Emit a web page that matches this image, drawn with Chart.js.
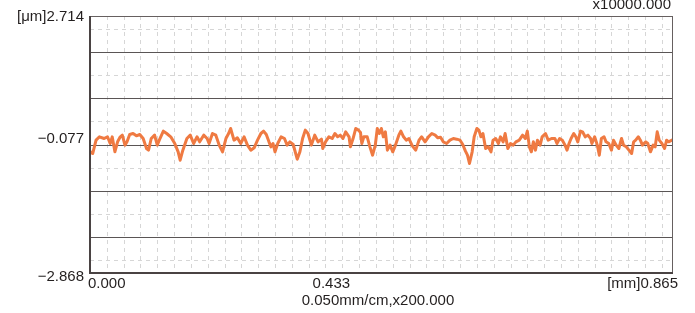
<!DOCTYPE html>
<html>
<head>
<meta charset="utf-8">
<script src="https://cdn.jsdelivr.net/npm/chart.js@4"></script>
<style>
  html, body { margin: 0; padding: 0; background: #fff; }
  #wrap { width: 695px; height: 313px; }
</style>
</head>
<body>
<div id="wrap"><canvas id="profileChart" width="695" height="313"></canvas></div>
<script>
// Axis range and labels
const xRange = [0, 0.865];
const yRange = [-2.868, 2.714];
const yCenter = -0.077;
const yLabels = ['[\u03bcm]2.714', '\u22120.077', '\u22122.868'];
const xLabels = ['0.000', '0.433', '[mm]0.865'];
const scaleNote = 'x10000.000';
const xTitle = '0.050mm/cm,x200.000';

// Profile (x in mm, y in um)
const profileX = [
  0.001,0.004,0.009,0.014,0.021,0.026,0.030,0.033,0.037,0.041,0.045,0.048,0.052,0.055,0.059,0.064,0.069,0.074,0.079,0.084,
  0.087,0.091,0.096,0.100,0.104,0.109,0.114,0.120,0.126,0.131,0.134,0.138,0.144,0.149,0.154,0.159,0.163,0.169,
  0.174,0.177,0.182,0.187,0.192,0.197,0.202,0.206,0.209,0.214,0.219,0.224,0.229,0.234,0.239,0.244,0.249,0.254,0.258,0.262,
  0.266,0.269,0.272,0.275,0.279,0.284,0.289,0.293,0.297,0.302,0.308,0.312,0.316,0.320,0.324,0.329,0.334,0.339,0.344,
  0.346,0.350,0.355,0.360,0.364,0.368,0.372,0.376,0.380,0.385,0.387,0.391,0.395,0.399,0.402,0.404,0.407,0.412,0.416,0.420,
  0.424,0.427,0.430,0.433,0.436,0.439,0.442,0.446,0.450,0.454,0.459,0.462,0.466,0.470,0.474,0.479,0.484,0.489,0.493,0.498,
  0.503,0.508,0.513,
  0.517,0.521,0.525,0.530,0.535,0.540,0.545,0.550,0.554,0.558,0.561,0.564,0.568,0.571,0.575,0.578,0.581,0.584,0.588,0.592,
  0.596,0.599,0.603,0.607,0.610,0.614,0.617,0.621,0.625,0.629,0.633,0.638,0.643,0.647,0.650,0.653,0.656,0.659,0.662,0.665,
  0.669,0.672,0.677,0.681,0.686,
  0.691,0.694,0.698,0.702,0.706,0.709,0.712,0.715,0.719,0.722,0.725,0.729,0.732,0.736,0.740,0.744,0.746,0.750,0.754,0.757,
  0.760,0.764,0.767,0.771,0.775,0.778,0.782,0.786,0.790,0.793,0.797,0.801,0.805,0.808,0.811,0.815,0.818,0.821,0.826,0.829,
  0.833,0.837,0.840,0.843,0.846,0.850,0.854,0.857,0.860,0.865
];
const profileY = [
  -0.236,-0.273,0.017,0.090,0.053,0.090,-0.055,0.090,-0.236,-0.019,0.090,0.126,-0.091,-0.019,0.140,0.162,0.111,0.140,0.053,-0.164,
  -0.200,0.053,0.126,-0.091,0.053,0.213,0.162,0.090,-0.055,-0.236,-0.418,-0.200,0.053,0.126,-0.055,0.090,-0.019,0.126,
  0.053,-0.055,0.162,0.126,-0.091,-0.236,0.053,0.162,0.271,0.017,0.068,-0.055,0.090,-0.091,-0.200,-0.149,0.017,0.162,0.213,0.140,
  -0.019,-0.128,-0.055,-0.236,-0.055,0.090,0.053,-0.091,-0.019,-0.077,-0.396,-0.236,0.053,0.235,0.162,-0.091,0.126,-0.019,0.039,
  -0.164,-0.019,0.090,0.053,0.162,0.090,0.126,0.053,0.198,0.090,-0.128,0.053,0.271,0.235,0.184,-0.055,0.090,0.090,-0.128,-0.309,
  -0.091,0.271,0.162,0.271,0.090,0.198,-0.200,-0.091,-0.236,-0.091,0.126,0.213,0.090,0.017,0.053,-0.106,-0.200,0.017,0.090,-0.019,
  0.090,0.162,0.126,
  0.068,0.082,-0.019,-0.055,0.017,0.053,0.039,0.017,-0.077,-0.222,-0.309,-0.490,-0.236,0.090,0.271,0.235,0.090,0.162,-0.164,-0.128,
  -0.236,0.017,0.053,-0.055,0.090,-0.019,0.162,-0.164,-0.055,-0.091,-0.019,0.017,0.126,0.053,0.213,-0.128,-0.236,-0.019,-0.200,0.017,
  -0.091,0.090,0.162,0.017,0.053,
  0.053,-0.055,0.053,0.017,-0.091,-0.200,-0.055,0.053,0.162,0.090,-0.019,0.213,0.198,0.090,0.126,0.053,-0.055,0.090,-0.091,-0.309,
  0.053,0.090,-0.019,-0.055,-0.200,0.017,-0.091,-0.164,0.053,-0.091,-0.128,-0.200,-0.273,-0.019,0.017,0.090,0.017,-0.091,-0.019,-0.055,
  -0.236,-0.091,-0.128,0.198,0.017,-0.055,-0.164,0.017,-0.019,0.017
];

// grid: dashed every 0.025 mm and 0.5 um, solid every 1 um around the center
const xGridStep = 0.025;
const yDashOffsets = [-2.5, -1.5, -0.5, 0.5, 1.5, 2.5];
const ySolidOffsets = [-2, -1, 0, 1, 2];

const FONT = '15px "Liberation Sans", Arial, sans-serif';

const gridPlugin = {
  id: 'profileGrid',
  beforeDatasetsDraw(chart) {
    const { ctx, chartArea: a, scales: { x, y } } = chart;
    ctx.save();
    ctx.lineWidth = 1;
    ctx.strokeStyle = '#d6d6d6';
    ctx.setLineDash([4, 4]);
    for (let v = xGridStep; v < xRange[1] - 0.001; v += xGridStep) {
      const px = Math.round(x.getPixelForValue(v)) + 0.5;
      ctx.beginPath(); ctx.moveTo(px, a.top); ctx.lineTo(px, a.bottom); ctx.stroke();
    }
    yDashOffsets.forEach(o => {
      const py = Math.round(y.getPixelForValue(yCenter + o)) + 0.5;
      ctx.beginPath(); ctx.moveTo(a.left, py); ctx.lineTo(a.right, py); ctx.stroke();
    });
    ctx.setLineDash([]);
    ctx.strokeStyle = '#5a5555';
    ctx.lineWidth = 1.2;
    ySolidOffsets.forEach(o => {
      const py = Math.round(y.getPixelForValue(yCenter + o)) + 0.5;
      ctx.beginPath(); ctx.moveTo(a.left, py); ctx.lineTo(a.right, py); ctx.stroke();
    });
    ctx.restore();
  },
  afterDraw(chart) {
    const { ctx, chartArea: a, scales: { x, y } } = chart;
    ctx.save();
    // frame
    ctx.strokeStyle = '#666060';
    ctx.lineWidth = 1;
    ctx.strokeRect(a.left + 0.5, a.top + 0.5, a.right - a.left, a.bottom - a.top);
    ctx.strokeStyle = '#4a4343';
    ctx.lineWidth = 2;
    ctx.beginPath();
    ctx.moveTo(a.left, a.top); ctx.lineTo(a.left, a.bottom); ctx.lineTo(a.right + 1, a.bottom);
    ctx.stroke();

    ctx.fillStyle = '#231f1f';
    ctx.font = FONT;
    ctx.textBaseline = 'middle';
    // y labels
    ctx.textAlign = 'right';
    ctx.fillText(yLabels[0], a.left - 6, y.getPixelForValue(yRange[1]) + 1);
    ctx.fillText(yLabels[1], a.left - 6, y.getPixelForValue(yCenter) - 6);
    ctx.fillText(yLabels[2], a.left - 6, y.getPixelForValue(yRange[0]) + 4);
    // x labels
    const ly = a.bottom + 11;
    ctx.textAlign = 'left';
    ctx.fillText(xLabels[0], x.getPixelForValue(0) - 2, ly);
    ctx.textAlign = 'center';
    ctx.fillText(xLabels[1], x.getPixelForValue(0.433) - 50, ly);
    ctx.textAlign = 'right';
    ctx.fillText(xLabels[2], x.getPixelForValue(xRange[1]) + 6, ly);
    ctx.fillText(scaleNote, a.right - 1, 5);
    ctx.textAlign = 'center';
    ctx.fillText(xTitle, (a.left + a.right) / 2 - 3, a.bottom + 28);
    ctx.restore();
  }
};

new Chart(document.getElementById('profileChart'), {
  type: 'line',
  data: {
    datasets: [{
      data: profileX.map((v, i) => ({ x: v, y: profileY[i] })),
      borderColor: '#ef7a42',
      borderWidth: 3,
      borderJoinStyle: 'round',
      borderCapStyle: 'round',
      pointRadius: 0,
      tension: 0,
      fill: false
    }]
  },
  options: {
    responsive: false,
    animation: false,
    layout: { padding: { left: 90, right: 23, top: 16, bottom: 40 } },
    plugins: { legend: { display: false }, tooltip: { enabled: false } },
    scales: {
      x: { type: 'linear', min: xRange[0], max: xRange[1], display: false },
      y: { type: 'linear', min: yRange[0], max: yRange[1], display: false }
    }
  },
  plugins: [gridPlugin]
});
</script>
</body>
</html>
